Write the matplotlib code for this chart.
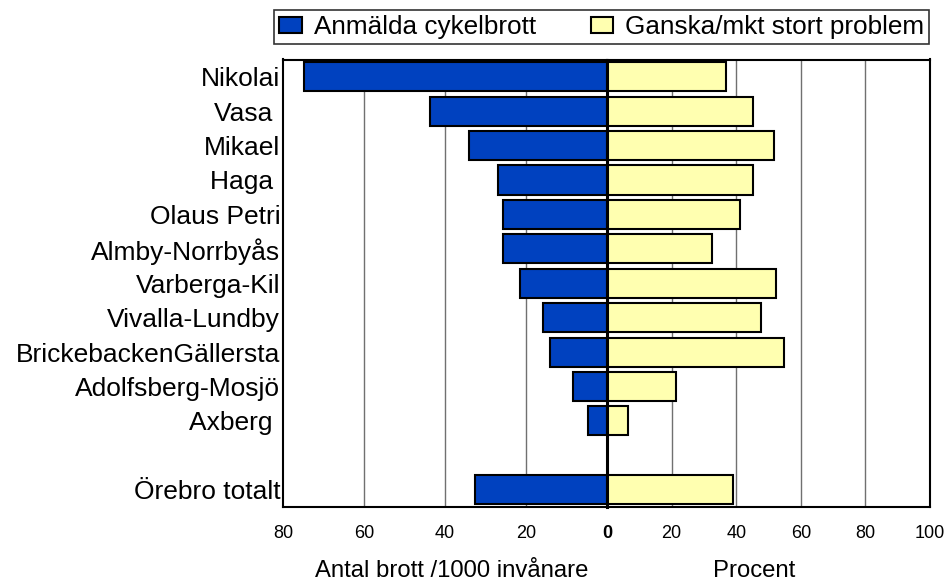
import matplotlib
matplotlib.use("Agg")
import matplotlib.pyplot as plt
from matplotlib.patches import Patch

plt.rcParams['font.family'] = ['Liberation Sans', 'DejaVu Sans']

categories = ["Nikolai", "Vasa ", "Mikael", "Haga ", "Olaus Petri", "Almby-Norrbyås",
              "Varberga-Kil", "Vivalla-Lundby", "BrickebackenGällersta",
              "Adolfsberg-Mosjö", "Axberg ", "", "Örebro totalt"]
brott = [74.8, 43.8, 34.1, 26.8, 25.8, 25.8, 21.5, 15.8, 14.1, 8.3, 4.7, None, 32.7]
problem = [36.8, 45.3, 51.6, 45.2, 41.1, 32.6, 52.2, 47.8, 54.8, 21.3, 6.4, None, 39.0]
left_ticks = [80, 60, 40, 20, 0]
right_ticks = [20, 40, 60, 80, 100]

blue = "#0041BF"
yellow = "#FFFFB0"

W, H = 947, 582
fig = plt.figure(figsize=(W / 100, H / 100), dpi=100)
top_px, bot_px = 59.5, 507
bot = 1 - bot_px / H
hgt = (bot_px - top_px) / H
axL = fig.add_axes([283 / W, bot, 324 / W, hgt])
axR = fig.add_axes([607 / W, bot, 323 / W, hgt])

pos = list(range(len(categories)))
bh = 0.845
for i, v in enumerate(brott):
    if v is not None:
        axL.barh(i, v, height=bh, color=blue, edgecolor="black", linewidth=1.5, zorder=3)
for i, v in enumerate(problem):
    if v is not None:
        axR.barh(i, v, height=bh, color=yellow, edgecolor="black", linewidth=1.5, zorder=3)

for ax in (axL, axR):
    ax.set_ylim(len(categories) - 0.5, -0.5)
    ax.tick_params(axis='both', length=0)
    for s in ax.spines.values():
        s.set_linewidth(1.5)
        s.set_color("black")

axL.set_xlim(80, 0)
axR.set_xlim(0, 100)

axL.set_yticks(pos)
axL.set_yticklabels(categories, fontsize=19)
axL.tick_params(axis='y', pad=2)
axR.set_yticks([])

axL.set_xticks(left_ticks)
axL.set_xticklabels([str(t) for t in left_ticks], fontsize=13)
axL.get_xticklabels()[-1].set_fontweight('bold')
axR.set_xticks(right_ticks)
axR.set_xticklabels([str(t) for t in right_ticks], fontsize=13)
for ax in (axL, axR):
    ax.tick_params(axis='x', pad=13)

for t in [60, 40, 20]:
    axL.axvline(t, color="#707070", linewidth=1.0, zorder=1)
for t in [20, 40, 60, 80]:
    axR.axvline(t, color="#707070", linewidth=1.0, zorder=1)

axL.spines['right'].set_visible(False)
axR.spines['left'].set_visible(False)
axR.axvline(0, color="black", linewidth=2.2, zorder=5, clip_on=False)

fig.text(451.5 / W, 1 - 571 / H, "Antal brott /1000 invånare", fontsize=17.2, ha='center', va='center')
fig.text(754.5 / W, 1 - 571 / H, "Procent", fontsize=17.2, ha='center', va='center')

handles = [Patch(facecolor=blue, edgecolor="black", linewidth=1.5, label="Anmälda cykelbrott"),
           Patch(facecolor=yellow, edgecolor="black", linewidth=1.5, label="Ganska/mkt stort problem")]
leg = fig.legend(handles=handles, loc='upper left', bbox_to_anchor=(274 / W, 1 - 10 / H),
                 ncol=2, fontsize=18.8, frameon=True, fancybox=False, edgecolor="black",
                 handlelength=0.87, handleheight=0.56, handletextpad=0.45, columnspacing=2.1,
                 borderpad=0.2, borderaxespad=0)
leg.get_frame().set_linewidth(1.2)

fig.savefig("out.png", dpi=100)
